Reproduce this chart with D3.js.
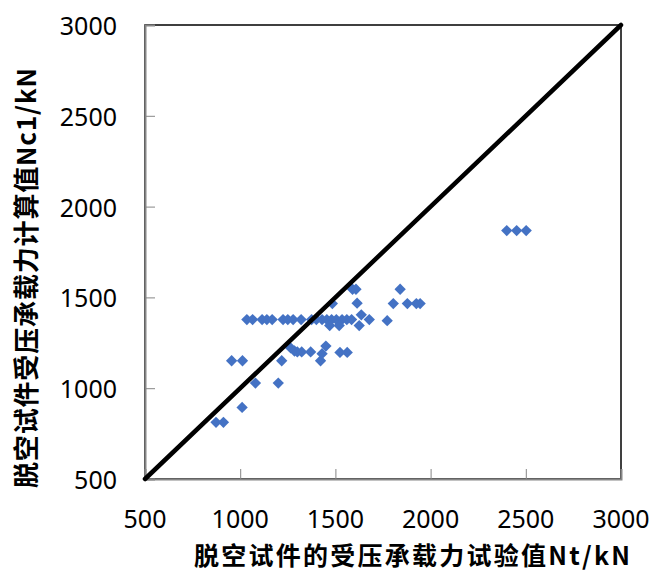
<!DOCTYPE html>
<html>
<head>
<meta charset="utf-8">
<script src="https://cdn.jsdelivr.net/npm/d3@7"></script>
<style>
  html, body { margin: 0; padding: 0; background: #fff; }
  svg { display: block; }
</style>
</head>
<body>
<svg id="chart" width="655" height="572"></svg>
<script>
// Test values Nt (kN) and calculated values Nc1 (kN) of the void specimens
const testNt = [
  873, 912, 1010, 1080, 1200,
  955, 1012, 1218, 1422,
  1265, 1285, 1300, 1323, 1370, 1430, 1450, 1524, 1562,
  1035, 1065, 1115, 1140, 1168, 1225, 1250, 1278, 1320, 1375,
  1400, 1430, 1455, 1480, 1505, 1535, 1560, 1585, 1678,
  1470, 1520, 1625, 1636, 1772,
  1484, 1614, 1590, 1608, 1840,
  1804, 1878, 1925, 1945,
  2400, 2452, 2502
];
const calcNc1 = [
  812, 812, 894, 1028, 1028,
  1151, 1151, 1151, 1151,
  1222, 1205, 1200, 1200, 1200, 1190, 1232, 1197, 1197,
  1378, 1378, 1378, 1378, 1378, 1378, 1378, 1378, 1378, 1378,
  1378, 1378, 1378, 1378, 1378, 1378, 1378, 1378, 1378,
  1345, 1345, 1345, 1404, 1372,
  1466, 1468, 1545, 1545, 1545,
  1466, 1466, 1466, 1466,
  1868, 1868, 1868
];
const tickValues = [500, 1000, 1500, 2000, 2500, 3000];
const equalityLine = [500, 3000];
const xTitle = "脱空试件的受压承载力试验值Nt/kN";
const yTitle = "脱空试件受压承载力计算值Nc1/kN";

const svg = d3.select("#chart");
const x = d3.scaleLinear().domain([500, 3000]).range([145, 621]);
const y = d3.scaleLinear().domain([500, 3000]).range([479, 25]);

const tickFont = "'Noto Sans', 'DejaVu Sans', sans-serif";
const titleFont = "'Noto Sans CJK SC', 'Noto Sans', sans-serif";

// plot frame (top and right edges)
svg.append("rect")
  .attr("x", x(500)).attr("y", y(3000))
  .attr("width", x(3000) - x(500)).attr("height", y(500) - y(3000))
  .attr("fill", "none").attr("stroke", "#000").attr("stroke-width", 1.5);

// axes with inward ticks
const xAxis = d3.axisTop(x).tickValues(tickValues).tickSize(10).tickFormat("");
const yAxis = d3.axisRight(y).tickValues(tickValues).tickSize(10).tickFormat("");

const gx = svg.append("g").attr("transform", `translate(0,${y(500)})`).call(xAxis);
const gy = svg.append("g").attr("transform", `translate(${x(500)},0)`).call(yAxis);
[gx, gy].forEach(g => {
  g.select(".domain").attr("stroke", "#868686").attr("stroke-width", 2);
  g.selectAll(".tick line").attr("stroke", "#868686").attr("stroke-width", 1);
});

// tick labels
svg.append("g").selectAll("text").data(tickValues).join("text")
  .attr("x", d => x(d)).attr("y", 518)
  .attr("text-anchor", "middle").attr("dominant-baseline", "central")
  .attr("font-family", tickFont).attr("font-size", 25).attr("fill", "#000")
  .text(d => d);

svg.append("g").selectAll("text").data(tickValues).join("text")
  .attr("x", 117).attr("y", d => y(d))
  .attr("text-anchor", "end").attr("dominant-baseline", "central")
  .attr("font-family", tickFont).attr("font-size", 25).attr("fill", "#000")
  .text(d => d);

// data points (diamonds)
const pts = testNt.map((v, i) => [v, calcNc1[i]]);
const diamond = d3.symbol().type(d3.symbolSquare).size(64);
svg.append("g").selectAll("path").data(pts).join("path")
  .attr("d", diamond)
  .attr("transform", d => `translate(${x(d[0])},${y(d[1])}) rotate(45)`)
  .attr("fill", "#4472C4");

// 1:1 line
svg.append("line")
  .attr("x1", x(equalityLine[0])).attr("y1", y(equalityLine[0]))
  .attr("x2", x(equalityLine[1])).attr("y2", y(equalityLine[1]))
  .attr("stroke", "#000").attr("stroke-width", 4.5).attr("stroke-linecap", "round");

// axis titles
svg.append("text")
  .attr("x", 412).attr("y", 554)
  .attr("text-anchor", "middle").attr("dominant-baseline", "central")
  .attr("font-family", titleFont).attr("font-weight", "bold").attr("font-size", 25)
  .attr("textLength", 436).attr("lengthAdjust", "spacing")
  .text(xTitle);

svg.append("text")
  .attr("transform", "translate(24,278) rotate(-90)")
  .attr("text-anchor", "middle").attr("dominant-baseline", "central")
  .attr("font-family", titleFont).attr("font-weight", "bold").attr("font-size", 26)
  .attr("textLength", 420).attr("lengthAdjust", "spacing")
  .text(yTitle);
</script>
</body>
</html>
